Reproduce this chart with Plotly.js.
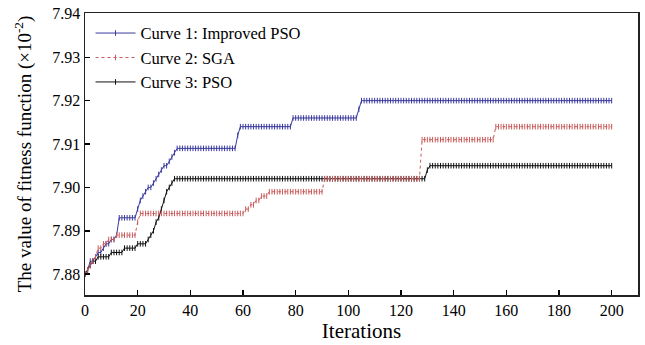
<!DOCTYPE html>
<html>
<head>
<meta charset="utf-8">
<script src="https://cdn.plot.ly/plotly-3.0.1.min.js"></script>
<style>html,body{margin:0;padding:0;background:#fff;}#chart{width:645px;height:345px;}</style>
</head>
<body>
<div id="chart"></div>
<script>
// Iterations 0..200
const iterations = Array.from({length: 201}, (_, i) => i);

const seriesNames = ["Curve 1: Improved PSO", "Curve 2: SGA", "Curve 3: PSO"];

// Curve 1: Improved PSO (values read per iteration, 0..200)
const improvedPSO = [
  7.880,7.881,7.883,7.883,7.884,7.885,7.885,7.886,7.887,7.887,
  7.888,7.888,7.889,7.893,7.893,7.893,7.893,7.893,7.893,7.893,
  7.895,7.897,7.898,7.899,7.900,7.900,7.901,7.902,7.903,7.904,
  7.905,7.905,7.906,7.907,7.908,7.909,7.909,7.909,7.909,7.909,
  7.909,7.909,7.909,7.909,7.909,7.909,7.909,7.909,7.909,7.909,
  7.909,7.909,7.909,7.909,7.909,7.909,7.909,7.909,7.912,7.914,
  7.914,7.914,7.914,7.914,7.914,7.914,7.914,7.914,7.914,7.914,
  7.914,7.914,7.914,7.914,7.914,7.914,7.914,7.914,7.914,7.916,
  7.916,7.916,7.916,7.916,7.916,7.916,7.916,7.916,7.916,7.916,
  7.916,7.916,7.916,7.916,7.916,7.916,7.916,7.916,7.916,7.916,
  7.916,7.916,7.916,7.916,7.918,7.920,7.920,7.920,7.920,7.920,
  7.920,7.920,7.920,7.920,7.920,7.920,7.920,7.920,7.920,7.920,
  7.920,7.920,7.920,7.920,7.920,7.920,7.920,7.920,7.920,7.920,
  7.920,7.920,7.920,7.920,7.920,7.920,7.920,7.920,7.920,7.920,
  7.920,7.920,7.920,7.920,7.920,7.920,7.920,7.920,7.920,7.920,
  7.920,7.920,7.920,7.920,7.920,7.920,7.920,7.920,7.920,7.920,
  7.920,7.920,7.920,7.920,7.920,7.920,7.920,7.920,7.920,7.920,
  7.920,7.920,7.920,7.920,7.920,7.920,7.920,7.920,7.920,7.920,
  7.920,7.920,7.920,7.920,7.920,7.920,7.920,7.920,7.920,7.920,
  7.920,7.920,7.920,7.920,7.920,7.920,7.920,7.920,7.920,7.920,
  7.920
];

// Curve 2: SGA
const sga = [
  7.880,7.881,7.882,7.883,7.884,7.886,7.886,7.887,7.887,7.888,
  7.888,7.888,7.889,7.889,7.889,7.889,7.889,7.889,7.889,7.889,
  7.892,7.894,7.894,7.894,7.894,7.894,7.894,7.894,7.894,7.894,
  7.894,7.894,7.894,7.894,7.894,7.894,7.894,7.894,7.894,7.894,
  7.894,7.894,7.894,7.894,7.894,7.894,7.894,7.894,7.894,7.894,
  7.894,7.894,7.894,7.894,7.894,7.894,7.894,7.894,7.894,7.894,
  7.894,7.895,7.895,7.896,7.896,7.897,7.897,7.898,7.898,7.898,
  7.899,7.899,7.899,7.899,7.899,7.899,7.899,7.899,7.899,7.899,
  7.899,7.899,7.899,7.899,7.899,7.899,7.899,7.899,7.899,7.899,
  7.899,7.902,7.902,7.902,7.902,7.902,7.902,7.902,7.902,7.902,
  7.902,7.902,7.902,7.902,7.902,7.902,7.902,7.902,7.902,7.902,
  7.902,7.902,7.902,7.902,7.902,7.902,7.902,7.902,7.902,7.902,
  7.902,7.902,7.902,7.902,7.902,7.902,7.902,7.902,7.911,7.911,
  7.911,7.911,7.911,7.911,7.911,7.911,7.911,7.911,7.911,7.911,
  7.911,7.911,7.911,7.911,7.911,7.911,7.911,7.911,7.911,7.911,
  7.911,7.911,7.911,7.911,7.911,7.911,7.914,7.914,7.914,7.914,
  7.914,7.914,7.914,7.914,7.914,7.914,7.914,7.914,7.914,7.914,
  7.914,7.914,7.914,7.914,7.914,7.914,7.914,7.914,7.914,7.914,
  7.914,7.914,7.914,7.914,7.914,7.914,7.914,7.914,7.914,7.914,
  7.914,7.914,7.914,7.914,7.914,7.914,7.914,7.914,7.914,7.914,
  7.914
];

// Curve 3: PSO
const pso = [
  7.880,7.881,7.882,7.883,7.883,7.884,7.884,7.884,7.884,7.884,
  7.885,7.885,7.885,7.885,7.885,7.886,7.886,7.886,7.886,7.886,
  7.887,7.887,7.887,7.887,7.888,7.889,7.890,7.892,7.893,7.895,
  7.897,7.899,7.900,7.901,7.902,7.902,7.902,7.902,7.902,7.902,
  7.902,7.902,7.902,7.902,7.902,7.902,7.902,7.902,7.902,7.902,
  7.902,7.902,7.902,7.902,7.902,7.902,7.902,7.902,7.902,7.902,
  7.902,7.902,7.902,7.902,7.902,7.902,7.902,7.902,7.902,7.902,
  7.902,7.902,7.902,7.902,7.902,7.902,7.902,7.902,7.902,7.902,
  7.902,7.902,7.902,7.902,7.902,7.902,7.902,7.902,7.902,7.902,
  7.902,7.902,7.902,7.902,7.902,7.902,7.902,7.902,7.902,7.902,
  7.902,7.902,7.902,7.902,7.902,7.902,7.902,7.902,7.902,7.902,
  7.902,7.902,7.902,7.902,7.902,7.902,7.902,7.902,7.902,7.902,
  7.902,7.902,7.902,7.902,7.902,7.902,7.902,7.902,7.902,7.902,
  7.904,7.905,7.905,7.905,7.905,7.905,7.905,7.905,7.905,7.905,
  7.905,7.905,7.905,7.905,7.905,7.905,7.905,7.905,7.905,7.905,
  7.905,7.905,7.905,7.905,7.905,7.905,7.905,7.905,7.905,7.905,
  7.905,7.905,7.905,7.905,7.905,7.905,7.905,7.905,7.905,7.905,
  7.905,7.905,7.905,7.905,7.905,7.905,7.905,7.905,7.905,7.905,
  7.905,7.905,7.905,7.905,7.905,7.905,7.905,7.905,7.905,7.905,
  7.905,7.905,7.905,7.905,7.905,7.905,7.905,7.905,7.905,7.905,
  7.905
];

const xTicks = [0,20,40,60,80,100,120,140,160,180,200];
const yTicks = [7.88,7.89,7.90,7.91,7.92,7.93,7.94];
const yTickText = ["7.88","7.89","7.90","7.91","7.92","7.93","7.94"];

const colors = ["#3a3aa0", "#c85a5a", "#111111"];
const allSeries = [improvedPSO, sga, pso];
const dashes = ["solid", "dot", "solid"];
// draw order: blue, black, red (red on top where it overlaps black), legend order kept by legendrank
const drawOrder = [0, 2, 1];

const traces = drawOrder.map(k => ({
  x: iterations,
  y: allSeries[k],
  name: seriesNames[k],
  legendrank: k + 1,
  type: "scatter",
  mode: "lines+markers",
  line: {color: colors[k], width: 1, dash: dashes[k]},
  marker: {symbol: "line-ns-open", size: 4, color: colors[k], line: {color: colors[k], width: 1}}
}));

const serif = "'Liberation Serif', 'DejaVu Serif', serif";

const layout = {
  width: 645, height: 345,
  margin: {l: 85, r: 7, t: 13, b: 50},
  paper_bgcolor: "#fff", plot_bgcolor: "#fff",
  font: {family: serif, color: "#000", size: 16},
  showlegend: true,
  legend: {
    x: 0.01, y: 0.99, xanchor: "left", yanchor: "top",
    traceorder: "normal",
    bgcolor: "rgba(0,0,0,0)", font: {family: serif, size: 16.5, color: "#000"},
    tracegroupgap: 0, itemwidth: 40
  },
  xaxis: {
    range: [0, 210],
    tickvals: xTicks, ticktext: xTicks.map(String),
    ticks: "inside", ticklen: 5, tickwidth: 1.5, tickcolor: "#000",
    showline: true, linecolor: "#222", linewidth: 1.5, mirror: true,
    showgrid: false, zeroline: false,
    tickfont: {family: serif, size: 16},
    title: {text: "Iterations", font: {family: serif, size: 21}, standoff: 2}
  },
  yaxis: {
    range: [7.8752, 7.9402],
    tickvals: yTicks, ticktext: yTickText,
    ticks: "inside", ticklen: 5, tickwidth: 1.5, tickcolor: "#000",
    showline: true, linecolor: "#222", linewidth: 1.5, mirror: true,
    showgrid: false, zeroline: false,
    tickfont: {family: serif, size: 16},
    title: {text: "The value of fitness function (×10<sup>-2</sup>)", font: {family: serif, size: 19}, standoff: 15}
  }
};

Plotly.newPlot("chart", traces, layout, {displayModeBar: false, staticPlot: true});
</script>
</body>
</html>
